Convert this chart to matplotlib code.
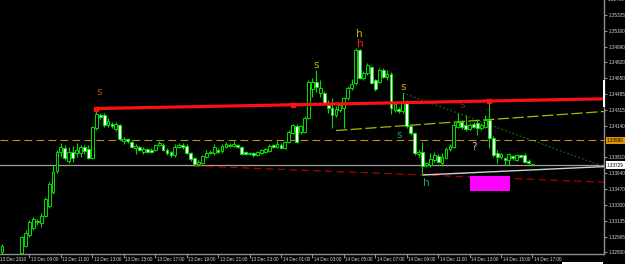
import numpy as np
import pandas as pd
import matplotlib
matplotlib.use("Agg")
import matplotlib.pyplot as plt
from matplotlib.patches import Rectangle
import matplotlib.transforms as mtransforms

# ---------------- data (M15, 13 Dec 07:15 .. 14 Dec 17:00) ----------------
opens = [1.32804, 1.32760, 1.32720, 1.32700, 1.32730, 1.32793, 1.32868, 1.32985, 1.33059, 1.33134,
         1.33112, 1.33187, 1.33293, 1.33442, 1.33666, 1.33868, 1.33910, 1.33772, 1.33868, 1.33857,
         1.33857, 1.33921, 1.33900, 1.33804, 1.34123, 1.34261, 1.34261, 1.34155, 1.34166, 1.34112,
         1.34155, 1.33985, 1.34006, 1.33974, 1.33910, 1.33921, 1.33868, 1.33900, 1.33889, 1.33889,
         1.33942, 1.33942, 1.33889, 1.33868, 1.33836, 1.33921, 1.33942, 1.33932, 1.33857, 1.33804,
         1.33740, 1.33751, 1.33815, 1.33857, 1.33857, 1.33889, 1.33878, 1.33921, 1.33942, 1.33932,
         1.33942, 1.33921, 1.33868, 1.33846, 1.33857, 1.33836, 1.33857, 1.33868, 1.33878, 1.33942,
         1.33921, 1.33942, 1.33910, 1.33974, 1.34070, 1.34144, 1.34081, 1.34081, 1.34230, 1.34538,
         1.34613, 1.34496, 1.34496, 1.34368, 1.34336, 1.34261, 1.34315, 1.34336, 1.34442, 1.34549,
         1.34602, 1.34953, 1.34655, 1.34708, 1.34772, 1.34634, 1.34613, 1.34740, 1.34666, 1.34698,
         1.34315, 1.34325, 1.34304, 1.34400, 1.34144, 1.34070, 1.33846, 1.33868, 1.33729, 1.33729,
         1.33783, 1.33825, 1.33751, 1.33804, 1.33900, 1.33921, 1.34134, 1.34187, 1.34155, 1.34112,
         1.34166, 1.34176, 1.34123, 1.34134, 1.34208, 1.34017, 1.33857, 1.33815, 1.33804, 1.33783,
         1.33825, 1.33783, 1.33836, 1.33836, 1.33772, 1.33740]
highs = [1.32889, 1.32775, 1.32750, 1.32745, 1.32775, 1.32974, 1.33038, 1.33144, 1.33176, 1.33155,
         1.33219, 1.33389, 1.33549, 1.33729, 1.33889, 1.33963, 1.33942, 1.33921, 1.33932, 1.33963,
         1.33942, 1.33942, 1.33942, 1.34144, 1.34315, 1.34283, 1.34283, 1.34230, 1.34187, 1.34187,
         1.34166, 1.34027, 1.34017, 1.33995, 1.33953, 1.33932, 1.33921, 1.33910, 1.33910, 1.33953,
         1.33985, 1.33963, 1.33910, 1.33878, 1.33953, 1.33963, 1.33963, 1.33953, 1.33868, 1.33815,
         1.33783, 1.33836, 1.33889, 1.33889, 1.33953, 1.33910, 1.33953, 1.33974, 1.33963, 1.33985,
         1.33953, 1.33932, 1.33878, 1.33868, 1.33868, 1.33878, 1.33900, 1.33910, 1.33953, 1.33953,
         1.33985, 1.33963, 1.33985, 1.34102, 1.34166, 1.34166, 1.34155, 1.34251, 1.34634, 1.34655,
         1.34740, 1.34634, 1.34517, 1.34421, 1.34442, 1.34357, 1.34389, 1.34453, 1.34570, 1.34644,
         1.34974, 1.34964, 1.34730, 1.34815, 1.34783, 1.34644, 1.34762, 1.34762, 1.34740, 1.34719,
         1.34400, 1.34347, 1.34496, 1.34421, 1.34166, 1.34081, 1.33889, 1.33974, 1.33761, 1.33857,
         1.33868, 1.33846, 1.33857, 1.33921, 1.33953, 1.34187, 1.34283, 1.34208, 1.34261, 1.34176,
         1.34187, 1.34208, 1.34176, 1.34261, 1.34410, 1.34038, 1.33889, 1.33857, 1.33815, 1.33857,
         1.33836, 1.33846, 1.33846, 1.33857, 1.33793, 1.33740]
lows = [1.32761, 1.32700, 1.32680, 1.32660, 1.32700, 1.32761, 1.32857, 1.32963, 1.33038, 1.33091,
        1.33070, 1.33176, 1.33272, 1.33421, 1.33644, 1.33815, 1.33783, 1.33751, 1.33761, 1.33815,
        1.33815, 1.33846, 1.33793, 1.33793, 1.34102, 1.34219, 1.34134, 1.34134, 1.34123, 1.34091,
        1.33995, 1.33953, 1.33963, 1.33910, 1.33846, 1.33878, 1.33846, 1.33857, 1.33857, 1.33878,
        1.33932, 1.33878, 1.33836, 1.33815, 1.33815, 1.33910, 1.33900, 1.33846, 1.33772, 1.33719,
        1.33719, 1.33740, 1.33804, 1.33846, 1.33836, 1.33857, 1.33857, 1.33910, 1.33921, 1.33921,
        1.33910, 1.33836, 1.33836, 1.33836, 1.33815, 1.33825, 1.33846, 1.33857, 1.33868, 1.33910,
        1.33910, 1.33900, 1.33900, 1.33963, 1.34059, 1.33963, 1.34059, 1.34070, 1.34219, 1.34453,
        1.34506, 1.34453, 1.34378, 1.34283, 1.34123, 1.34240, 1.34293, 1.34123, 1.34421, 1.34527,
        1.34581, 1.34644, 1.34634, 1.34687, 1.34591, 1.34517, 1.34602, 1.34655, 1.34634, 1.34272,
        1.34293, 1.34283, 1.34283, 1.34123, 1.34049, 1.33836, 1.33815, 1.33623, 1.33708, 1.33708,
        1.33761, 1.33751, 1.33719, 1.33793, 1.33878, 1.33910, 1.34123, 1.34112, 1.34091, 1.34102,
        1.34123, 1.34049, 1.34102, 1.34123, 1.33910, 1.33815, 1.33751, 1.33793, 1.33729, 1.33729,
        1.33783, 1.33772, 1.33804, 1.33751, 1.33740, 1.33719]
closes = [1.32868, 1.32720, 1.32700, 1.32730, 1.32770, 1.32963, 1.33006, 1.33123, 1.33155, 1.33123,
          1.33187, 1.33368, 1.33527, 1.33655, 1.33868, 1.33921, 1.33804, 1.33868, 1.33804, 1.33889,
          1.33921, 1.33878, 1.33804, 1.34134, 1.34272, 1.34240, 1.34155, 1.34198, 1.34144, 1.34166,
          1.34006, 1.34006, 1.33985, 1.33921, 1.33932, 1.33889, 1.33900, 1.33868, 1.33868, 1.33942,
          1.33963, 1.33889, 1.33857, 1.33836, 1.33921, 1.33942, 1.33921, 1.33857, 1.33793, 1.33740,
          1.33761, 1.33825, 1.33857, 1.33868, 1.33921, 1.33868, 1.33932, 1.33953, 1.33932, 1.33953,
          1.33921, 1.33846, 1.33846, 1.33857, 1.33836, 1.33868, 1.33889, 1.33900, 1.33932, 1.33921,
          1.33953, 1.33910, 1.33974, 1.34081, 1.34155, 1.33974, 1.34144, 1.34230, 1.34613, 1.34613,
          1.34559, 1.34549, 1.34389, 1.34336, 1.34261, 1.34325, 1.34368, 1.34442, 1.34549, 1.34591,
          1.34953, 1.34655, 1.34708, 1.34793, 1.34602, 1.34538, 1.34740, 1.34666, 1.34698, 1.34336,
          1.34378, 1.34304, 1.34400, 1.34144, 1.34070, 1.33857, 1.33868, 1.33719, 1.33751, 1.33793,
          1.33836, 1.33761, 1.33815, 1.33900, 1.33932, 1.34155, 1.34187, 1.34134, 1.34112, 1.34155,
          1.34134, 1.34123, 1.34155, 1.34208, 1.34017, 1.33836, 1.33815, 1.33846, 1.33783, 1.33846,
          1.33804, 1.33836, 1.33815, 1.33761, 1.33751, 1.33729]

price_ticks = [1.35325, 1.35160, 1.34990, 1.34820, 1.34650, 1.34485, 1.34315, 1.34140,
               1.33810, 1.33640, 1.33470, 1.33300, 1.33135, 1.32965, 1.32800]
top_price_label = 1.35490
orange_level = 1.33990

# trend lines: anchor bars / prices (rays extended to the right edge)
red_line_bars, red_line_prices = [25, 125], [1.34330, 1.34410]
red_marker_bars = [25, 75, 125]
yellow_bars, yellow_prices = [86, 125], [1.34096, 1.34212]
green_bars, green_prices = [103, 136], [1.34496, 1.33990]
dred_bars, dred_prices = [50, 108], [1.33719, 1.33623]
white_bars, white_prices = [108, 136], [1.33623, 1.33677]
box_bars, box_prices = [120.1, 130.3], [1.33456, 1.33615]

ann_text = ["s", "s", "h", "h", "s", "s", "h", "?", "s"]
ann_bar = [25.7, 80.9, 91.9, 92.1, 103.0, 102.0, 108.9, 121.1, 118.0]
ann_price = [1.34509, 1.34793, 1.35123, 1.35017, 1.34556, 1.34049, 1.33538, 1.33924, 1.34368]
ann_color = ["#d0401c", "#c8b400", "#c8b400", "#ff2020", "#c8b400", "#20a080", "#20a080",
             "#c8c8c8", "#b01818"]

SMALL_FONT = "Liberation Sans"
SMALL = 3.3

# ---------------- figure ----------------
W, H = 625, 264
fig = plt.figure(figsize=(W / 100, H / 100), dpi=100, facecolor="black")
ax = fig.add_axes([0, (H - 254) / H, 604 / W, 254 / H], facecolor="black")

n = len(closes)
bars = np.arange(1, n + 1)
t0 = pd.Timestamp("2010-12-13 07:00")
XMIN, XMAX = 0.51, 154.2
YMIN, YMAX = 1.32782, 1.35485
ax.set_xlim(XMIN, XMAX)
ax.set_ylim(YMIN, YMAX)

o = np.array(opens); h = np.array(highs); l = np.array(lows); c = np.array(closes)
lime = "#00e000"
ax.vlines(bars, l, h, color=lime, lw=0.8, zorder=3)
bull = c >= o
body_lo = np.minimum(o, c)
body_h = np.maximum(np.abs(c - o), 0.00003)
ax.bar(bars[bull], body_h[bull], bottom=body_lo[bull], width=0.72,
       facecolor="black", edgecolor=lime, lw=0.7, zorder=4)
ax.bar(bars[~bull], body_h[~bull], bottom=body_lo[~bull], width=0.72,
       facecolor="white", edgecolor=lime, lw=0.7, zorder=4)


def ray(bx, py, lw, color, ls, z=2):
    slope = (py[1] - py[0]) / (bx[1] - bx[0])
    xs = [bx[0], XMAX]
    ys = [py[0], py[0] + slope * (XMAX - bx[0])]
    ax.plot(xs, ys, color=color, lw=lw, linestyle=ls, zorder=z, solid_capstyle="butt")
    return slope


ax.axhline(orange_level, color="#c88a00", lw=0.8, linestyle=(0, (7, 3.8)), zorder=1)
ax.axhline(c[-1], color="#a0a0a0", lw=0.9, zorder=1)

ray(dred_bars, dred_prices, 0.9, "#a80000", (0, (6, 3.5)))
ray(white_bars, white_prices, 1.0, "#d0d0d0", "-")
ray(green_bars, green_prices, 0.7, "#1c7a1c", (0, (2, 2)))
ray(yellow_bars, yellow_prices, 0.9, "#b4b400", (0, (9, 2.8)))
s_red = ray(red_line_bars, red_line_prices, 2.3, "#ff1010", "-", z=5)
ax.plot(red_marker_bars,
        [red_line_prices[0] + s_red * (b - red_line_bars[0]) for b in red_marker_bars],
        "s", color="#ff1010", ms=3.2, zorder=6)

ax.add_patch(Rectangle((box_bars[0], box_prices[0]), box_bars[1] - box_bars[0],
                       box_prices[1] - box_prices[0], facecolor="#ff00ff",
                       edgecolor="none", zorder=2))

for t, bx, py, col in zip(ann_text, ann_bar, ann_price, ann_color):
    ax.text(bx, py, t, color=col, fontsize=7.5, ha="center", va="center", zorder=7)

for s in ["top", "left"]:
    ax.spines[s].set_visible(False)
for s in ["right", "bottom"]:
    ax.spines[s].set_color("#909090")
    ax.spines[s].set_linewidth(1.0)

tick_times = pd.date_range("2010-12-13 07:00", "2010-12-14 17:00", freq="2h")
tick_pos = [(t - t0) / pd.Timedelta("15min") for t in tick_times]
tick_lab = ["13 Dec 2010"] + [t.strftime("%d %b %H:%M") for t in tick_times[1:]]
ax.set_xticks([p for p in tick_pos if p >= XMIN])
ax.set_xticklabels([])
ax.tick_params(axis="x", direction="out", length=3, color="#909090", width=0.8)
xtr = mtransforms.blended_transform_factory(ax.transData, ax.transAxes)
for p, lab in zip(tick_pos, tick_lab):
    ax.text(p + 0.4, -0.012, lab, transform=xtr, ha="left", va="top", family=SMALL_FONT,
            fontsize=SMALL, color="#d8d8d8", clip_on=False)

ax.yaxis.tick_right()
ax.set_yticks(price_ticks)
ax.set_yticklabels([f"{v:.5f}" for v in price_ticks], family=SMALL_FONT)
ax.tick_params(axis="y", direction="out", length=2.5, color="#909090", width=0.8,
               labelsize=SMALL, labelcolor="#d8d8d8", pad=0.9)
ytr = mtransforms.blended_transform_factory(ax.transAxes, ax.transData)
ax.text(1.0058, top_price_label, f"{top_price_label:.5f}", transform=ytr, ha="left",
        va="center", family=SMALL_FONT, fontsize=SMALL, color="#d8d8d8", clip_on=False)
ax.text(1.0052, orange_level, f"{orange_level:.5f}", transform=ytr, ha="left", va="center",
        family=SMALL_FONT, fontsize=SMALL, color="black", clip_on=False,
        bbox=dict(facecolor="#e09400", edgecolor="none", pad=0.8))
ax.text(1.0052, c[-1], f"{c[-1]:.5f}", transform=ytr, ha="left", va="center",
        family=SMALL_FONT, fontsize=SMALL, color="black", clip_on=False,
        bbox=dict(facecolor="white", edgecolor="none", pad=0.8))

fig.patches.append(Rectangle((603 / W, (H - 107) / H), 2 / W, 27 / H, transform=fig.transFigure,
                             facecolor="white", edgecolor="none"))
fig.patches.append(Rectangle((562 / W, 0), 41 / W, 2 / H, transform=fig.transFigure,
                             facecolor="white", edgecolor="none"))

fig.savefig("out.png", dpi=100, facecolor="black")
